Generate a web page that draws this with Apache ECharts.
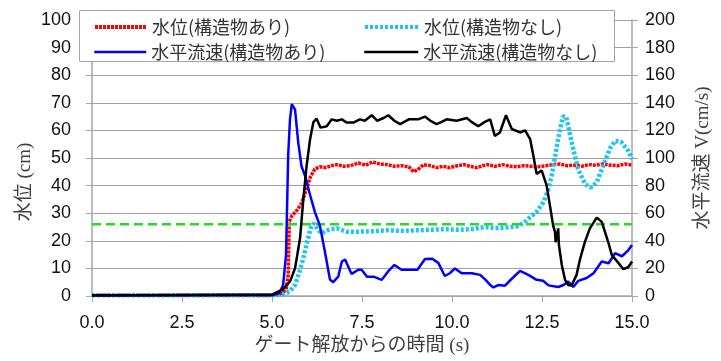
<!DOCTYPE html>
<html>
<head>
<meta charset="utf-8">
<script src="https://cdn.jsdelivr.net/npm/echarts@6/dist/echarts.min.js"></script>
<style>html,body{margin:0;padding:0;background:#fff;}#c{width:721px;height:361px;}</style>
</head>
<body>
<div id="c"></div>
<script>
// ---- Data ----
const SERIES_NAMES = ['水位(構造物あり)', '水位(構造物なし)', '水平流速(構造物あり)', '水平流速(構造物なし)'];

const T_LEVEL_WITH = [0, 5.0, 5.3, 5.4, 5.45, 5.48, 5.55, 5.69, 5.82, 5.96, 6.06, 6.19, 6.33, 6.5, 6.65, 6.8, 7.0, 7.17, 7.4, 7.6, 7.8, 8.0, 8.2, 8.4, 8.6, 8.8, 8.93, 9.05, 9.21, 9.4, 9.57, 9.75, 9.94, 10.15, 10.33, 10.5, 10.7, 10.85, 10.98, 11.2, 11.4, 11.6, 11.8, 12.0, 12.2, 12.4, 12.6, 12.8, 13.0, 13.2, 13.4, 13.6, 13.8, 14.0, 14.2, 14.4, 14.6, 14.8, 15.0];
const LEVEL_WITH = [0.3, 0.3, 1.0, 2.9, 7.7, 27, 29, 31, 33.5, 38.8, 43, 46, 46.8, 46.5, 47.2, 47.6, 47, 47.2, 48.2, 47.4, 48.6, 47.8, 47.6, 47, 47.2, 46.8, 45, 45.8, 47.6, 47.2, 46.5, 47, 46.5, 47.2, 47.6, 47, 46.5, 47.2, 47.6, 47, 47.6, 47, 46.8, 47.2, 47, 46.8, 47.2, 47.6, 47.8, 47.2, 47.4, 47, 47.6, 47.4, 47.8, 47.4, 47.2, 47.8, 47.4];

const T_LEVEL_WITHOUT = [0, 5.0, 5.3, 5.5, 5.64, 5.78, 5.87, 5.98, 6.07, 6.17, 6.29, 6.37, 6.56, 6.8, 7.07, 7.4, 7.8, 8.2, 8.6, 9.0, 9.4, 9.8, 10.2, 10.6, 10.9, 11.2, 11.5, 11.8, 12.0, 12.12, 12.35, 12.54, 12.66, 12.77, 12.95, 13.08, 13.17, 13.32, 13.5, 13.7, 13.86, 14.02, 14.2, 14.39, 14.53, 14.7, 14.9, 15.0];
const LEVEL_WITHOUT = [0.3, 0.3, 0.5, 1.7, 4, 9.5, 13.7, 19.7, 24.5, 26.3, 23.9, 22.7, 23.9, 24.5, 23.3, 23.3, 23.5, 23.8, 23.6, 23.8, 24.0, 24.2, 24.0, 24.3, 25.0, 24.6, 24.8, 25.2, 26.5, 28, 30.5, 34, 38, 43.6, 57, 65, 65, 56, 46, 40.5, 39.3, 41.2, 47.2, 53.5, 56.2, 55.8, 52.5, 49.6];

const T_VEL_WITH = [0, 5.0, 5.2, 5.31, 5.39, 5.45, 5.5, 5.55, 5.64, 5.73, 5.82, 5.92, 6.06, 6.19, 6.33, 6.47, 6.61, 6.7, 6.84, 6.94, 7.03, 7.21, 7.4, 7.49, 7.64, 7.82, 8.05, 8.23, 8.4, 8.6, 8.84, 9.04, 9.25, 9.45, 9.62, 9.8, 9.94, 10.08, 10.27, 10.55, 10.78, 10.92, 11.06, 11.15, 11.3, 11.47, 11.66, 11.89, 12.12, 12.35, 12.53, 12.68, 12.95, 13.1, 13.23, 13.37, 13.51, 13.74, 13.93, 14.16, 14.35, 14.53, 14.72, 14.9, 15.0];
const VEL_WITH = [0.5, 0.5, 2, 8, 30, 102, 128, 139, 135, 111, 94, 87, 73, 61, 51, 32, 12, 10, 14, 25, 26.5, 16, 19, 19, 14, 14, 11.7, 18, 22.5, 19, 19, 19, 26.8, 27, 24, 14.5, 16.5, 20, 16.5, 16.5, 15.3, 12, 8, 6.2, 8, 7.5, 12.5, 18.2, 15.3, 11.7, 11, 7.7, 6.5, 8, 10.5, 6.5, 11, 13, 16.5, 25, 23.7, 31, 28.8, 33.3, 37];

const T_VEL_WITHOUT = [0, 5.0, 5.31, 5.5, 5.64, 5.78, 5.87, 5.96, 6.06, 6.15, 6.24, 6.35, 6.52, 6.66, 6.8, 6.94, 7.07, 7.26, 7.44, 7.58, 7.77, 7.92, 8.1, 8.23, 8.4, 8.56, 8.8, 9.06, 9.25, 9.4, 9.57, 9.7, 9.85, 10.13, 10.41, 10.55, 10.73, 10.9, 11.06, 11.19, 11.33, 11.5, 11.66, 11.89, 12.03, 12.17, 12.26, 12.35, 12.49, 12.63, 12.72, 12.81, 12.86, 12.88, 12.95, 12.97, 13.05, 13.14, 13.23, 13.32, 13.46, 13.56, 13.69, 13.83, 14.02, 14.16, 14.34, 14.44, 14.62, 14.76, 14.9, 15.0];
const VEL_WITHOUT = [0.3, 1, 5, 10.5, 20, 42, 70, 94, 114, 126, 128.5, 122, 123, 128, 127, 128, 125.7, 125.7, 128, 127, 131, 127, 129, 131, 127, 124.5, 128, 128, 130, 127, 124.5, 126, 128, 127, 129, 126, 123, 126, 128, 116, 118.5, 131, 121, 118.5, 120, 113.7, 101.6, 88.5, 91, 80, 65.7, 51, 46.5, 39, 49, 37, 22.5, 11.7, 8, 7.5, 15.3, 27, 39, 49, 56.8, 53.7, 39, 29.7, 24, 19.5, 21, 25];

const THRESHOLD_LEVEL = 26;
const TIME_RANGE = [0, 15];
const X_TICK = 2.5;

// ---- Chart ----
const zip = (xs, ys) => xs.map((x, i) => [x, ys[i]]);
const chart = echarts.init(document.getElementById('c'), null, {renderer: 'canvas'});

const numFont = 'Liberation Sans, Arial, sans-serif';
const jpFont = 'Noto Sans CJK JP, sans-serif';
const titleFont = 'Liberation Serif, Noto Sans CJK JP, serif';
const axisGray = '#a6a6a6';

function legendAt(name, left, top, iconW, lw) {
  return {
    data: [name], left: left, top: top, padding: 0, z: 110,
    itemWidth: iconW, itemHeight: 14, selectedMode: false,
    itemStyle: {opacity: 0, borderWidth: 0},
    lineStyle: {width: lw},
    textStyle: {fontFamily: jpFont, fontSize: 18, color: '#333'}
  };
}

chart.setOption({
  animation: false,
  backgroundColor: '#fff',
  grid: {left: 92, right: 89, top: 20, bottom: 63},
  graphic: [
    {type: 'rect', shape: {x: 79.5, y: 10.5, width: 535, height: 51}, style: {fill: '#fff', stroke: '#a6a6a6', lineWidth: 1}, z: 100},
    {type: 'text', x: 25, y: 182, rotation: Math.PI / 2, style: {text: '水位 (cm)', fontFamily: titleFont, fontSize: 19, fill: '#404040', textAlign: 'center', textVerticalAlign: 'middle'}, z: 100}
  ],
  legend: [
    legendAt(SERIES_NAMES[0], 93, 18, 52, 4),
    legendAt(SERIES_NAMES[1], 363, 18, 54, 4),
    legendAt(SERIES_NAMES[2], 93, 43, 52, 2.5),
    legendAt(SERIES_NAMES[3], 363, 43, 54, 2.5)
  ],
  xAxis: {
    type: 'value', min: TIME_RANGE[0], max: TIME_RANGE[1], interval: X_TICK,
    name: 'ゲート解放からの時間 (s)', nameLocation: 'middle', nameGap: 41,
    nameTextStyle: {fontFamily: titleFont, fontSize: 19, color: '#404040'},
    axisLine: {show: true, lineStyle: {color: axisGray, width: 1.5}},
    axisTick: {show: true, length: 6, lineStyle: {color: axisGray}},
    splitLine: {show: false},
    axisLabel: {margin: 18, fontFamily: numFont, fontSize: 18, color: '#111', formatter: v => v.toFixed(1)}
  },
  yAxis: [
    {
      type: 'value', min: 0, max: 100, interval: 10, position: 'left',
      axisLine: {show: true, lineStyle: {color: axisGray, width: 1.5}},
      axisTick: {show: true, length: 6, lineStyle: {color: axisGray}},
      splitLine: {show: true, lineStyle: {color: '#a0a0a0', width: 1}},
      axisLabel: {margin: 21, fontFamily: numFont, fontSize: 18, color: '#111'}
    },
    {
      type: 'value', min: 0, max: 200, interval: 20, position: 'right',
      name: '水平流速 V(cm/s)', nameLocation: 'middle', nameGap: 62, nameRotate: 90,
      nameTextStyle: {fontFamily: titleFont, fontSize: 19, color: '#404040'},
      axisLine: {show: true, lineStyle: {color: axisGray, width: 1.5}},
      axisTick: {show: true, length: 6, lineStyle: {color: axisGray}},
      splitLine: {show: false},
      axisLabel: {margin: 13, fontFamily: numFont, fontSize: 18, color: '#111'}
    }
  ],
  series: [
    {
      name: SERIES_NAMES[0], type: 'line', yAxisIndex: 0, showSymbol: false, symbol: 'none',
      data: zip(T_LEVEL_WITH, LEVEL_WITH), z: 2,
      lineStyle: {color: '#ff0000', width: 3.5, type: [3, 1]}, itemStyle: {color: '#ff0000'}
    },
    {
      name: SERIES_NAMES[1], type: 'line', yAxisIndex: 0, showSymbol: false, symbol: 'none',
      data: zip(T_LEVEL_WITHOUT, LEVEL_WITHOUT), z: 3,
      lineStyle: {color: '#22c4f4', width: 4.5, type: [3, 2]}, itemStyle: {color: '#22c4f4'}
    },
    {
      name: 'threshold', type: 'line', yAxisIndex: 0, showSymbol: false, symbol: 'none',
      data: TIME_RANGE.map(t => [t, THRESHOLD_LEVEL]), z: 4,
      lineStyle: {color: '#22dd22', width: 2.5, type: [9, 5]}, itemStyle: {color: '#22dd22'}
    },
    {
      name: SERIES_NAMES[2], type: 'line', yAxisIndex: 1, showSymbol: false, symbol: 'none',
      data: zip(T_VEL_WITH, VEL_WITH), z: 5,
      lineStyle: {color: '#0000ff', width: 2.5}, itemStyle: {color: '#0000ff'}
    },
    {
      name: SERIES_NAMES[3], type: 'line', yAxisIndex: 1, showSymbol: false, symbol: 'none',
      data: zip(T_VEL_WITHOUT, VEL_WITHOUT), z: 6,
      lineStyle: {color: '#000000', width: 2.5}, itemStyle: {color: '#000000'}
    }
  ]
});
</script>
</body>
</html>
